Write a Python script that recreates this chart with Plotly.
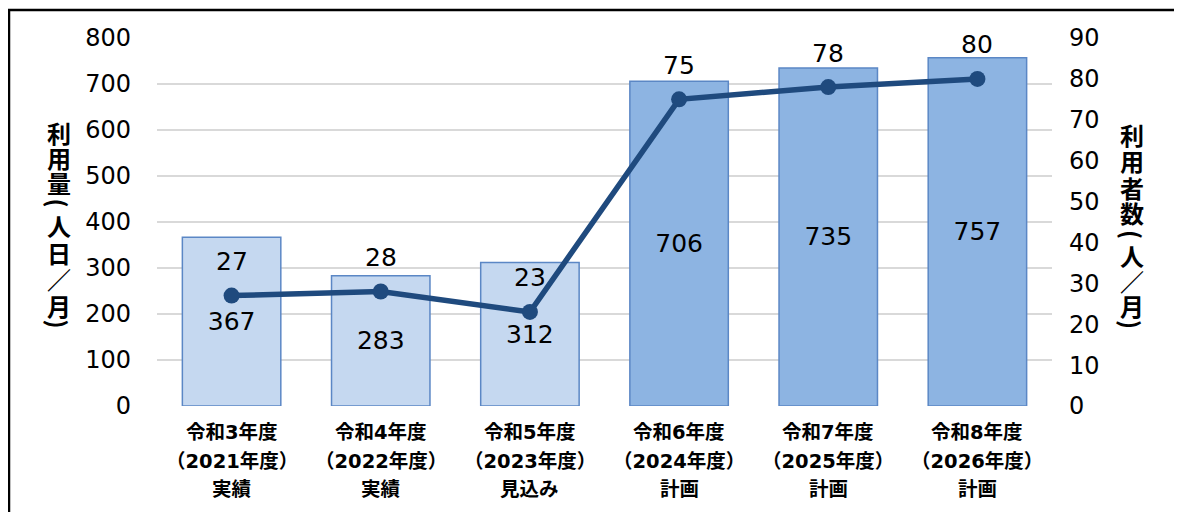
import plotly.graph_objects as go

line1 = ["令和3年度", "令和4年度", "令和5年度", "令和6年度", "令和7年度", "令和8年度"]
line2 = ["（2021年度）", "（2022年度）", "（2023年度）", "（2024年度）", "（2025年度）", "（2026年度）"]
line3 = ["実績", "実績", "見込み", "計画", "計画", "計画"]
categories = [a + b + c for a, b, c in zip(line1, line2, line3)]
usage = [367, 283, 312, 706, 735, 757]          # 利用量(人日/月)
users = [27, 28, 23, 75, 78, 80]                # 利用者数(人/月)
left_ticks = [0, 100, 200, 300, 400, 500, 600, 700, 800]
right_ticks = [0, 10, 20, 30, 40, 50, 60, 70, 80, 90]
left_title = ["利", "用", "量", "(", "人", "日", "／", "月", ")"]
right_title = ["利", "用", "者", "数", "(", "人", "／", "月", ")"]

CJK = "Noto Sans CJK JP"
NUM = "DejaVu Sans, Noto Sans CJK JP"
light = "#C5D8F0"
dark = "#8DB4E2"
bar_colors = [light, light, light, dark, dark, dark]
navy = "#1F4A7E"

# page-pixel layout of the plot area (page has an 8px body offset)
PX0, PX1, PY0, PY1 = 157, 1052, 38, 406


def px(x):
    return (x - PX0) / (PX1 - PX0)


def py(y):
    return (PY1 - y) / (PY1 - PY0)


fig = go.Figure()
fig.add_trace(go.Bar(
    x=categories, y=usage, width=0.66,
    marker=dict(color=bar_colors, line=dict(color="#5B87C5", width=1.5)),
    text=[str(v) for v in usage], textposition="inside", insidetextanchor="middle",
    textangle=0,
    textfont=dict(family=NUM, size=25, color="#000000"),
    yaxis="y", showlegend=False, hoverinfo="skip",
))
fig.add_trace(go.Scatter(
    x=categories, y=users, mode="lines+markers",
    line=dict(color=navy, width=5.5),
    marker=dict(size=16, color=navy),
    yaxis="y2", showlegend=False, hoverinfo="skip",
))

annotations = []
for c, v in zip(categories, users):
    annotations.append(dict(x=c, y=v, xref="x", yref="y2", text=str(v),
                            showarrow=False, yshift=34,
                            font=dict(family=NUM, size=25, color="#000000")))
ZW = "\u200b"  # keeps the full-width brackets from being trimmed at line ends
for c, a, b, d in zip(categories, line1, line2, line3):
    for txt, yy in ((a, 432), (ZW + b + ZW, 461.5), (d, 489)):
        annotations.append(dict(x=c, y=py(yy), xref="x", yref="paper", text=txt,
                                showarrow=False, yanchor="middle",
                                font=dict(family=NUM, size=19.5, color="#000000", weight=700)))


def title_chars(chars, xs, ys):
    for ch, yy in zip(chars, ys):
        rot = 90 if ch in "()" else 0
        annotations.append(dict(x=px(xs), y=py(yy), xref="paper", yref="paper", text=ch,
                                showarrow=False, xanchor="center", yanchor="middle",
                                textangle=rot,
                                font=dict(family=CJK, size=24, color="#000000", weight=700)))


title_chars(left_title, 58.5, [132, 157, 182, 203, 225, 252, 278, 305, 324])
title_chars(right_title, 1132, [134, 160, 187, 213, 234, 255, 280, 305, 324])

fig.update_layout(
    width=1174, height=504,
    margin=dict(l=149, r=130, t=30, b=106),
    paper_bgcolor="white", plot_bgcolor="white",
    xaxis=dict(showticklabels=False, showline=False, showgrid=False, ticks=""),
    yaxis=dict(range=[0, 800], tickvals=left_ticks, showgrid=True, gridcolor="#D9D9D9",
               gridwidth=1.5, zeroline=False, showline=False, ticks="",
               ticklabelstandoff=25,
               tickfont=dict(family=NUM, size=24, color="#000000")),
    yaxis2=dict(range=[0, 90], tickvals=right_ticks, overlaying="y", side="right",
                showgrid=False, zeroline=False, showline=False, ticks="",
                ticklabelstandoff=16,
                tickfont=dict(family=NUM, size=24, color="#000000")),
    annotations=annotations,
    shapes=[dict(type="rect", xref="paper", yref="paper",
                 x0=px(9), x1=px(1300), y0=py(700), y1=py(10),
                 line=dict(color="#000000", width=2.5), fillcolor="rgba(0,0,0,0)")],
)

fig.write_html("out.html")
